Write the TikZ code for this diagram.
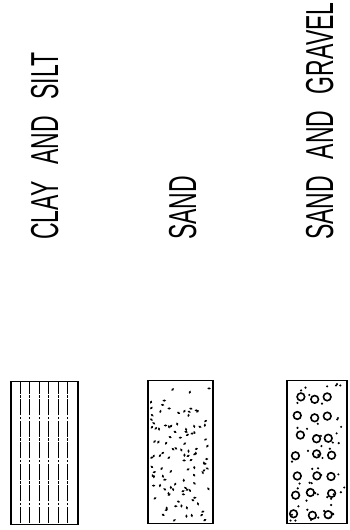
\documentclass[tikz,border=0pt]{standalone}
\usepackage{fontspec}
\newfontfamily\legendfont[FakeStretch=0.59,WordSpace=2.6]{Liberation Sans}
\begin{document}
\begin{tikzpicture}[x=1pt,y=1pt,
  swatch/.style={draw, line width=1.3pt, minimum width=#1, minimum height=143pt, inner sep=0pt},
  legend/.style={rotate=90, anchor=base west, inner sep=0pt, font=\legendfont\fontsize{39}{39}\selectfont}]
\useasboundingbox (0,0) rectangle (349,530);
\pgfmathsetseed{11}
% labels
\node[legend] (claylabel) at (58,290) {CLAY AND SILT};
\node[legend] (sandlabel) at (196,290) {SAND};
\node[legend] (gravellabel) at (333,290) {SAND AND GRAVEL};
% swatches
\node[swatch=67pt] (clay) at (44.5,77) {};
\node[swatch=65pt] (sand) at (180.5,78) {};
\node[swatch=60pt] (gravel) at (317,78) {};
% clay and silt
\foreach \lx in {20,29.5,39,48.5,58,67.5}
  \draw[line width=0.8pt, dash pattern=on 16pt off 1.5pt on 2.5pt off 1.5pt] (\lx,7) -- (\lx,148);
% sand
\foreach \i in {1,...,110}{
  \pgfmathsetmacro\px{151+59*rnd}
  \pgfmathsetmacro\py{9+136*rnd}
  \pgfmathsetmacro\pa{180*rnd}
  \fill[rotate around={\pa:(\px,\py)}] (\px,\py) ellipse [x radius=1.8, y radius=1.1];
}
% sand and gravel
\foreach \r in {0,...,6}
  \foreach \c in {0,1,2}{
    \pgfmathsetmacro\gx{297+\c*17+4*rand}
    \pgfmathsetmacro\gy{16+\r*19.5+3*rand}
    \draw[line width=1.6pt] (\gx,\gy) circle [radius=3.8];
  }
\foreach \i in {1,...,55}{
  \pgfmathsetmacro\px{290+55*rnd}
  \pgfmathsetmacro\py{9+137*rnd}
  \fill (\px,\py) circle [radius=1.2];
}
\end{tikzpicture}
\end{document}
